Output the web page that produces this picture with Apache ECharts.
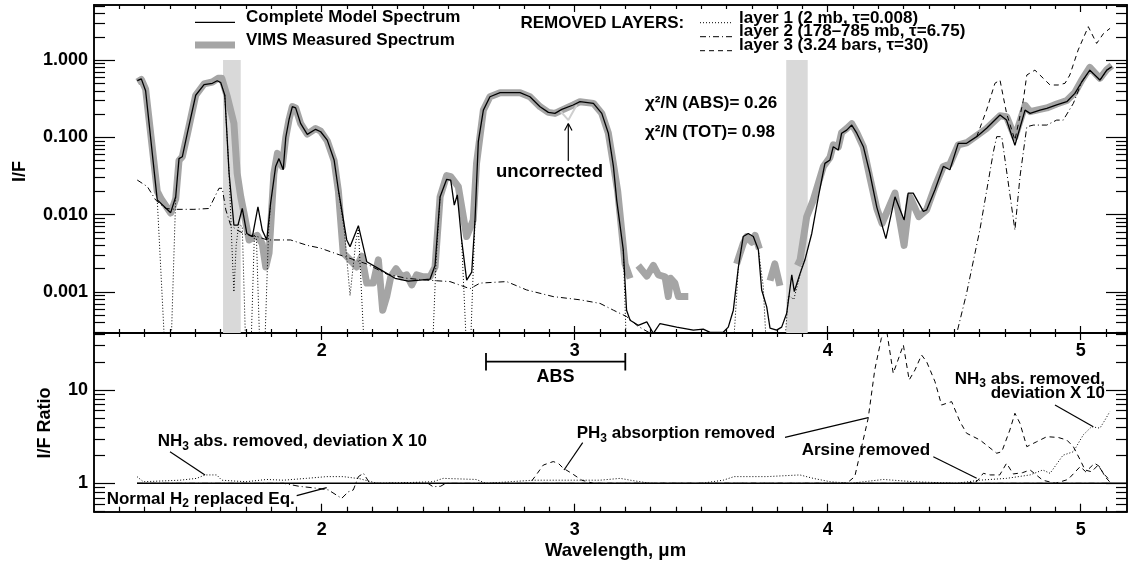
<!DOCTYPE html>
<html><head><meta charset="utf-8">
<script src="https://cdn.jsdelivr.net/npm/echarts@6/dist/echarts.min.js"></script>
<style>html,body{margin:0;padding:0;background:#fff}#c{width:1128px;height:563px}</style>
</head><body><div id="c"></div>
<script>
// ---------------- DATA (wavelength in micron, I/F or ratio) ----------------
const modelSpectrum = [[1.271,0.54],[1.287,0.57],[1.304,0.40],[1.350,0.0155],[1.403,0.0106],[1.423,0.017],[1.436,0.053],[1.449,0.056],[1.469,0.113],[1.502,0.35],[1.535,0.48],[1.568,0.50],[1.587,0.54],[1.601,0.51],[1.617,0.35],[1.634,0.034],[1.653,0.0073],[1.669,0.0073],[1.686,0.012],[1.704,0.0057],[1.726,0.0052],[1.748,0.0126],[1.765,0.0063],[1.783,0.0047],[1.798,0.014],[1.818,0.042],[1.831,0.053],[1.848,0.038],[1.858,0.10],[1.871,0.17],[1.884,0.25],[1.897,0.24],[1.917,0.15],[1.943,0.109],[1.976,0.127],[1.996,0.118],[2.022,0.092],[2.049,0.051],[2.066,0.0208],[2.099,0.0047],[2.112,0.00385],[2.145,0.0072],[2.178,0.00246],[2.230,0.00196],[2.290,0.0015],[2.342,0.00138],[2.389,0.00142],[2.428,0.00146],[2.448,0.0022],[2.468,0.017],[2.494,0.0286],[2.510,0.028],[2.524,0.0133],[2.536,0.018],[2.553,0.0047],[2.573,0.00142],[2.593,0.0018],[2.606,0.0085],[2.619,0.088],[2.639,0.225],[2.665,0.335],[2.705,0.378],[2.784,0.378],[2.823,0.335],[2.863,0.249],[2.896,0.21],[2.922,0.204],[2.949,0.23],[2.994,0.262],[3.021,0.289],[3.074,0.275],[3.107,0.204],[3.133,0.113],[3.153,0.042],[3.166,0.0154],[3.192,0.0035],[3.205,0.00058],[3.219,0.00043],[3.251,0.00037],[3.285,0.00041],[3.311,0.00029],[3.337,0.00039],[3.403,0.00035],[3.469,0.00032],[3.508,0.00033],[3.535,0.0003],[3.587,0.0003],[3.607,0.00035],[3.627,0.00058],[3.647,0.0021],[3.666,0.0052],[3.686,0.0057],[3.706,0.0052],[3.726,0.0035],[3.739,0.00106],[3.759,0.00064],[3.772,0.00034],[3.798,0.00032],[3.818,0.00035],[3.838,0.00053],[3.858,0.00166],[3.868,0.00101],[3.890,0.0017],[3.910,0.0026],[3.937,0.0057],[3.963,0.017],[3.989,0.046],[4.009,0.051],[4.022,0.0756],[4.042,0.0685],[4.055,0.113],[4.075,0.124],[4.095,0.144],[4.115,0.113],[4.141,0.0756],[4.167,0.034],[4.194,0.0125],[4.230,0.0049],[4.266,0.017],[4.302,0.0085],[4.318,0.019],[4.338,0.019],[4.378,0.011],[4.391,0.0115],[4.424,0.021],[4.457,0.042],[4.483,0.038],[4.516,0.0836],[4.549,0.0836],[4.589,0.102],[4.628,0.131],[4.681,0.194],[4.707,0.167],[4.740,0.079],[4.780,0.225],[4.800,0.204],[4.839,0.225],[4.866,0.237],[4.905,0.262],[4.945,0.289],[4.977,0.37],[5.004,0.52],[5.036,0.74],[5.076,0.55],[5.103,0.74],[5.123,0.82]];

const vimsSpectrum = [[1.271,0.52],[1.287,0.56],[1.304,0.42],[1.350,0.02],[1.365,0.016],[1.403,0.0105],[1.423,0.016],[1.436,0.05],[1.449,0.056],[1.469,0.11],[1.502,0.35],[1.535,0.49],[1.568,0.52],[1.590,0.58],[1.605,0.58],[1.627,0.335],[1.653,0.152],[1.666,0.034],[1.680,0.017],[1.693,0.0104],[1.713,0.0047],[1.745,0.0054],[1.765,0.0042],[1.779,0.0021],[1.792,0.0032],[1.811,0.034],[1.825,0.062],[1.844,0.042],[1.858,0.1],[1.871,0.17],[1.884,0.25],[1.897,0.24],[1.917,0.15],[1.943,0.11],[1.976,0.13],[1.996,0.12],[2.022,0.09],[2.049,0.05],[2.066,0.02],[2.085,0.0032],[2.112,0.0026],[2.138,0.0021],[2.158,0.0029],[2.178,0.0013],[2.204,0.0013],[2.224,0.0026],[2.241,0.00058],[2.257,0.00087],[2.273,0.00157],[2.294,0.002],[2.316,0.00157],[2.336,0.00166],[2.356,0.00123],[2.375,0.00166],[2.402,0.00157],[2.428,0.00157],[2.448,0.0021],[2.468,0.017],[2.494,0.032],[2.510,0.031],[2.540,0.023],[2.573,0.0052],[2.599,0.0085],[2.612,0.046],[2.639,0.225],[2.665,0.335],[2.705,0.378],[2.784,0.378],[2.823,0.335],[2.863,0.249],[2.896,0.21],[2.922,0.204],[2.949,0.225],[2.994,0.262],[3.021,0.289],[3.074,0.275],[3.107,0.204],[3.133,0.113],[3.153,0.045],[3.170,0.02],[3.199,0.0023],[3.219,0.0015],[3.235,null],[3.251,0.0022],[3.285,0.0016],[3.311,0.0022],[3.331,0.00166],[3.357,0.00157],[3.370,0.00087],[3.379,0.0015],[3.396,0.0013],[3.410,0.00087],[3.449,0.00087],[3.55,null],[3.640,0.0023],[3.666,0.0042],[3.680,0.0052],[3.700,0.0044],[3.713,0.0054],[3.730,0.0036],[3.75,null],[3.772,0.0014],[3.791,0.0023],[3.811,0.0012],[3.85,null],[3.880,0.0022],[3.891,0.0026],[3.917,0.0094],[3.943,0.0154],[3.983,0.042],[4.009,0.055],[4.022,0.08],[4.042,0.075],[4.055,0.115],[4.075,0.13],[4.095,0.15],[4.115,0.115],[4.141,0.075],[4.167,0.03],[4.194,0.012],[4.215,0.0077],[4.266,0.019],[4.302,0.004],[4.325,0.017],[4.360,0.0094],[4.391,0.0115],[4.424,0.023],[4.457,0.042],[4.483,0.045],[4.516,0.08],[4.549,0.085],[4.589,0.105],[4.628,0.13],[4.681,0.19],[4.707,0.185],[4.740,0.1],[4.780,0.26],[4.800,0.215],[4.839,0.23],[4.866,0.24],[4.905,0.27],[4.945,0.3],[4.977,0.38],[5.004,0.55],[5.036,0.8],[5.076,0.58],[5.103,0.75],[5.123,0.85]];

const layer1Removed = [[1.350,0.0155],[1.384,0.0001],[1.402,0.0001],[1.423,0.017],[1.43,null],
 [1.617,0.35],[1.634,0.034],[1.645,0.004],[1.653,0.001],[1.662,0.004],[1.672,0.0075],[1.686,0.007],[1.702,0.0001],[1.718,0.0001],[1.734,0.0055],[1.742,0.005],[1.758,0.0001],[1.772,0.0001],[1.790,0.006],[1.798,0.014],[1.81,null],
 [2.066,0.0208],[2.090,0.006],[2.112,0.0009],[2.135,0.0045],[2.145,0.0065],[2.172,0.0001],[2.435,0.0001],[2.452,0.0025],[2.468,0.017],[2.48,null],
 [2.553,0.0047],[2.576,0.0001],[2.585,0.0001],[2.606,0.0085],[2.61,null],
 [3.192,0.0035],[3.207,0.0001],[3.622,0.0001],[3.647,0.0021],[3.66,null],
 [3.726,0.0035],[3.745,0.0012],[3.762,0.0001],[3.822,0.0001],[3.845,0.0009],[3.866,0.0008],[3.900,0.0022],[3.910,0.0026]];

const layer2Removed = [[1.271,0.028],[1.311,0.023],[1.344,0.0154],[1.383,0.012],[1.423,0.0117],[1.495,0.0117],[1.555,0.012],[1.594,0.0219],[1.607,0.0219],[1.621,0.0115],[1.640,0.0073],[1.666,0.0063],[1.706,0.0054],[1.745,0.0052],[1.785,0.0047],[1.838,0.0047],[1.877,0.0047],[1.943,0.004],[1.993,0.0037],[2.072,0.003],[2.178,0.0023],[2.257,0.0017],[2.336,0.0015],[2.415,0.00142],[2.507,0.00136],[2.586,0.0011],[2.626,0.0013],[2.731,0.00136],[2.810,0.00106],[2.915,0.00087],[3.021,0.00079],[3.100,0.00071],[3.153,0.00058],[3.205,0.00048],[3.250,0.00036],[3.300,0.00029],[3.400,0.00022],[4.400,0.0001],[4.510,0.00029],[4.549,0.00096],[4.602,0.0065],[4.655,0.065],[4.668,0.102],[4.688,0.102],[4.740,0.0063],[4.760,0.031],[4.787,0.137],[4.813,0.144],[4.866,0.144],[4.905,0.167],[4.931,0.167],[4.971,0.275],[5.004,0.52],[5.036,0.74],[5.076,0.55],[5.103,0.74],[5.123,0.82]];

const layer3Removed = [[4.589,0.102],[4.628,0.225],[4.661,0.5],[4.681,0.55],[4.707,0.204],[4.740,0.092],[4.773,0.30],[4.787,0.64],[4.819,0.74],[4.852,0.58],[4.879,0.475],[4.911,0.475],[4.938,0.5],[4.957,0.64],[4.990,1.35],[5.030,2.7],[5.063,1.64],[5.090,2.2],[5.116,2.57]];

const uncorrectedSpectrum = [[2.940,0.225],[2.975,0.167],[3.008,0.262]];

const ratioUnity = [[1.27,1],[5.183,1]];
const ratioNH3 = [[1.27,1.18],[1.295,1.04],[1.44,1.08],[1.506,1.13],[1.539,1.23],[1.585,1.23],[1.605,1.08],[1.70,1.04],[1.783,1.1],[1.848,1.08],[1.94,1.13],[2.02,1.18],[2.085,1.18],[2.15,1.12],[2.22,1.0],[2.35,1.02],[2.44,1.04],[2.48,1.13],[2.61,1.1],[2.65,1.0],[2.835,1.08],[2.99,1.08],[3.1,1.08],[3.18,1.13],[3.22,1.08],[3.30,1.0],[3.50,1.0],[3.587,1.08],[3.63,1.18],[3.76,1.18],[3.89,1.23],[3.943,1.13],[4.01,1.04],[4.09,1.0],[4.22,1.1],[4.34,1.04],[4.51,1.0],[4.60,1.08],[4.707,1.13],[4.80,1.23],[4.85,1.39],[4.879,1.28],[4.93,2.0],[4.971,2.18],[5.01,3.3],[5.043,4.04],[5.076,3.9],[5.096,4.77],[5.115,5.86]];
const ratioNormalH2 = [[1.27,1.0],[1.85,1.0],[1.91,0.93],[1.99,0.88],[2.026,0.85],[2.079,0.69],[2.105,0.81],[2.125,0.85],[2.145,1.18],[2.165,1.28],[2.19,1.0],[2.42,1.0],[2.44,0.92],[2.47,0.93],[2.49,1.0],[5.12,1.0]];
const ratioPH3 = [[2.80,1.0],[2.823,1.0],[2.843,1.18],[2.876,1.57],[2.915,1.71],[2.935,1.64],[2.955,1.45],[2.988,1.28],[3.028,1.08],[3.074,1.0],[4.075,1.0],[4.107,1.18],[4.160,4.97],[4.186,16.4],[4.212,35.8],[4.232,45],[4.259,15.1],[4.278,21],[4.299,30.4],[4.322,12.8],[4.345,16.4],[4.371,23.7],[4.391,20.1],[4.424,12.3],[4.450,6.9],[4.470,7.2],[4.490,7.5],[4.523,4.57],[4.549,3.44],[4.602,2.91],[4.668,2.1],[4.688,2.18],[4.720,3.73],[4.740,5.63],[4.760,4.4],[4.787,2.47],[4.826,2.79],[4.866,3.16],[4.911,3.1],[4.945,2.91],[4.971,2.47],[4.998,1.78],[5.017,1.39],[5.043,1.33],[5.069,1.57],[5.089,1.28],[5.115,1.08]];
const ratioArsine = [[4.55,1.0],[4.59,1.05],[4.615,1.28],[4.642,1.23],[4.68,1.23],[4.707,1.64],[4.733,1.26],[4.77,1.3],[4.80,1.39],[4.85,1.08],[4.90,1.0],[4.95,1.1],[4.998,1.51],[5.02,1.33],[5.055,1.64],[5.075,1.51],[5.096,1.18],[5.12,1.0]];

const absorptionBands = [[1.61,1.68],[3.836,3.921]];
const xMajorTicks = [2,3,4,5];
const topMajorTicks = [0.001,0.01,0.1,1];
const topTickLabels = ['0.001','0.010','0.100','1.000'];
const ratioMajorTicks = [1,10];
const ratioTickLabels = ['1','10'];

// ---------------- CHART ----------------
const XMIN = 1.1, XMAX = 5.183;
const TOP_MIN = Math.log10(0.0002940), TOP_MAX = Math.log10(5.15);
const BOT_MIN = Math.log10(0.4965), BOT_MAX = Math.log10(40.8);
const FF = '"Liberation Sans", Arial, Helvetica, sans-serif';
const lg = v => Math.log10(v);
const toLog = arr => arr.map(p => [p[0], p[1] == null ? '-' : lg(p[1])]);

const xMinor = [];
for (let i = 11; i <= 52; i++) { const v = +(i / 10).toFixed(1); if (v > XMIN && v < XMAX && xMajorTicks.indexOf(v) < 0) xMinor.push(v); }
function minorLog(lo, hi, majors) {
  const out = [];
  for (let d = -5; d <= 2; d++) for (let k = 1; k <= 9; k++) {
    const v = Math.log10(k * Math.pow(10, d));
    if (v >= lo - 1e-9 && v <= hi + 1e-9 && !majors.some(m => Math.abs(Math.log10(m) - v) < 1e-9)) out.push(v);
  }
  return out;
}
const topMinor = minorLog(TOP_MIN, TOP_MAX, topMajorTicks);
const botMinor = minorLog(BOT_MIN, BOT_MAX, ratioMajorTicks);

const AXC = '#000';
function xAx(grid, pos, vals, len, withLabels) {
  return { type: 'value', gridIndex: grid, position: pos, min: XMIN, max: XMAX,
    axisLine: { show: true, onZero: false, lineStyle: { color: AXC, width: 1.5 } },
    axisTick: { show: true, inside: true, length: len, customValues: vals, lineStyle: { color: AXC, width: 1.2 } },
    axisLabel: withLabels ? { show: true, customValues: vals, margin: 9, fontFamily: FF, fontWeight: 'bold', fontSize: 18, color: '#000', formatter: v => String(Math.round(v)) } : { show: false },
    splitLine: { show: false } };
}
function yAx(grid, pos, lo, hi, vals, len, labels) {
  return { type: 'value', gridIndex: grid, position: pos, min: lo, max: hi,
    axisLine: { show: true, onZero: false, lineStyle: { color: AXC, width: 1.5 } },
    axisTick: { show: true, inside: true, length: len, customValues: vals, lineStyle: { color: AXC, width: 1.2 } },
    axisLabel: labels ? { show: true, customValues: vals, margin: 6, fontFamily: FF, fontWeight: 'bold', fontSize: 18, color: '#000',
      formatter: v => { let best = 0, bd = 1e9; vals.forEach((t, i) => { const d = Math.abs(t - v); if (d < bd) { bd = d; best = i; } }); return labels[best]; } } : { show: false },
    splitLine: { show: false } };
}
const topMajLog = topMajorTicks.map(lg), botMajLog = ratioMajorTicks.map(lg);

const xAxis = [
  xAx(0, 'bottom', xMajorTicks, 7, true), xAx(0, 'bottom', xMinor, 4, false),
  xAx(0, 'top', xMajorTicks, 7, false), xAx(0, 'top', xMinor, 4, false),
  xAx(1, 'bottom', xMajorTicks, 8, true), xAx(1, 'bottom', xMinor, 5, false),
  xAx(1, 'top', xMajorTicks, 7, false), xAx(1, 'top', xMinor, 4, false)
];
const yAxis = [
  yAx(0, 'left', TOP_MIN, TOP_MAX, topMajLog, 21, topTickLabels), yAx(0, 'left', TOP_MIN, TOP_MAX, topMinor, 11, null),
  yAx(0, 'right', TOP_MIN, TOP_MAX, topMajLog, 21, null), yAx(0, 'right', TOP_MIN, TOP_MAX, topMinor, 11, null),
  yAx(1, 'left', BOT_MIN, BOT_MAX, botMajLog, 21, ratioTickLabels), yAx(1, 'left', BOT_MIN, BOT_MAX, botMinor, 11, null),
  yAx(1, 'right', BOT_MIN, BOT_MAX, botMajLog, 21, null), yAx(1, 'right', BOT_MIN, BOT_MAX, botMinor, 11, null)
];

function line(name, data, grid, style, z) {
  return { type: 'line', name, data, xAxisIndex: grid ? 4 : 0, yAxisIndex: grid ? 4 : 0,
    showSymbol: false, symbol: 'none', silent: true, animation: false, connectNulls: false, clip: true,
    lineStyle: style, z: z || 3 };
}
const DOT = [1, 2], DASH = [5, 4], DASHDOT = [6, 3, 1, 3];

const series = [
  { type: 'line', name: 'bands', data: [], xAxisIndex: 0, yAxisIndex: 0, silent: true, animation: false, z: 1,
    markArea: { silent: true, itemStyle: { color: '#d9d9d9' },
      data: absorptionBands.map(b => [{ xAxis: b[0], yAxis: 0 }, { xAxis: b[1], yAxis: TOP_MIN }]) } },
  line('VIMS Measured Spectrum', toLog(vimsSpectrum), 0, { color: '#a5a5a5', width: 7, join: 'round', cap: 'butt' }, 2),
  line('uncorrected', toLog(uncorrectedSpectrum), 0, { color: '#cfcfcf', width: 2 }, 2),
  line('layer 1', toLog(layer1Removed), 0, { color: '#000', width: 1, type: DOT }, 3),
  line('layer 2', toLog(layer2Removed), 0, { color: '#000', width: 1, type: DASHDOT }, 3),
  line('layer 3', toLog(layer3Removed), 0, { color: '#000', width: 1, type: DASH }, 3),
  line('Complete Model Spectrum', toLog(modelSpectrum), 0, { color: '#000', width: 1.3 }, 4),
  line('ratio unity', toLog(ratioUnity), 1, { color: '#000', width: 1.6 }, 4),
  line('NH3 removed', toLog(ratioNH3), 1, { color: '#000', width: 1, type: DOT }, 3),
  line('Normal H2', toLog(ratioNormalH2), 1, { color: '#000', width: 1, type: DASHDOT }, 3),
  line('PH3 removed', toLog(ratioPH3), 1, { color: '#000', width: 1, type: DASH }, 3),
  line('Arsine removed', toLog(ratioArsine), 1, { color: '#000', width: 1, type: DASH }, 3)
];

function txt(x, y, text, size, align, extra) {
  return Object.assign({ type: 'text', silent: true, z: 50,
    style: { x, y, text, fontFamily: FF, fontWeight: 'bold', fontSize: size || 17, fill: '#000', align: align || 'left', verticalAlign: 'middle' } }, extra || {});
}
function richSub(x, y, parts, size, align) {
  // parts: array of [text, isSub]
  const text = parts.map(p => '{' + (p[1] ? 's' : 'a') + '|' + p[0] + '}').join('');
  return { type: 'text', silent: true, z: 50,
    style: { x, y, text, fontFamily: FF, fontWeight: 'bold', fontSize: size, fill: '#000', align: align || 'left', verticalAlign: 'middle',
      rich: { a: { fontFamily: FF, fontWeight: 'bold', fontSize: size, lineHeight: 22, verticalAlign: 'middle', fill: '#000' },
              s: { fontFamily: FF, fontWeight: 'bold', fontSize: Math.round(size * 0.68), lineHeight: 12, verticalAlign: 'bottom', fill: '#000' } } } };
}
function seg(x1, y1, x2, y2, w, dash, color) {
  return { type: 'line', silent: true, z: 50, shape: { x1, y1, x2, y2 },
    style: { stroke: color || '#000', lineWidth: w || 1.2, lineDash: dash || null } };
}

const graphic = [
  // legend
  seg(195, 22.3, 235, 22.3, 1.3), txt(246, 17.5, 'Complete Model Spectrum', 17),
  seg(195, 45, 235, 45, 7, null, '#a5a5a5'), txt(246, 40.5, 'VIMS Measured Spectrum', 17),
  txt(520.5, 23.5, 'REMOVED LAYERS:', 17),
  seg(700, 22.7, 733, 22.7, 1, DOT), txt(739, 18, 'layer 1 (2 mb, τ=0.008)', 17),
  seg(700, 36.7, 733, 36.7, 1, DASHDOT), txt(739, 31.8, 'layer 2 (178–785 mb, τ=6.75)', 17),
  seg(700, 50.7, 733, 50.7, 1, DASH), txt(739, 45.8, 'layer 3 (3.24 bars, τ=30)', 17),
  // chi-square
  txt(645, 103.5, 'χ²/N (ABS)= 0.26', 17), txt(645, 132, 'χ²/N (TOT)= 0.98', 17),
  // uncorrected arrow
  txt(549.5, 172, 'uncorrected', 18.5, 'center'),
  seg(568.3, 161, 568.3, 124), seg(568.3, 123.5, 564.6, 130.5), seg(568.3, 123.5, 572, 130.5),
  // ABS bar
  seg(486, 361.7, 625.3, 361.7, 1.8), seg(486, 353, 486, 370.5, 1.8), seg(625.3, 353, 625.3, 370.5, 1.8),
  txt(555.5, 377, 'ABS', 18, 'center'),
  // axis titles
  txt(0, 0, 'I/F', 18, 'center', { x: 20.5, y: 171.5, rotation: Math.PI / 2 }),
  txt(0, 0, 'I/F Ratio', 18, 'center', { x: 45.5, y: 423, rotation: Math.PI / 2 }),
  txt(615.5, 551, 'Wavelength, μm', 18.5, 'center'),
  // bottom panel annotations
  richSub(157.7, 441.5, [['NH', 0], ['3', 1], [' abs. removed, deviation X 10', 0]], 17),
  seg(170, 451.7, 205, 475),
  richSub(106.7, 499, [['Normal H', 0], ['2', 1], [' replaced Eq.', 0]], 17),
  seg(296.7, 495.7, 326.7, 487.7),
  richSub(576.7, 433.5, [['PH', 0], ['3', 1], [' absorption removed', 0]], 17),
  seg(582.7, 442.7, 564, 470), seg(785, 437.3, 868.3, 417.7),
  txt(801.7, 450, 'Arsine removed', 17),
  seg(933.3, 456.7, 976.7, 478.3),
  richSub(1105, 379, [['NH', 0], ['3', 1], [' abs. removed,', 0]], 17, 'right'),
  txt(1105, 393.5, 'deviation X 10', 17, 'right'),
  seg(1055, 405, 1093.3, 426.7)
];

const chart = echarts.init(document.getElementById('c'), null, { renderer: 'canvas' });
chart.setOption({
  animation: false,
  backgroundColor: '#fff',
  grid: [
    { left: 94, top: 5, width: 1033, height: 328, containLabel: false },
    { left: 94, top: 333, width: 1033, height: 178.7, containLabel: false }
  ],
  xAxis, yAxis, series, graphic
});
</script></body></html>
